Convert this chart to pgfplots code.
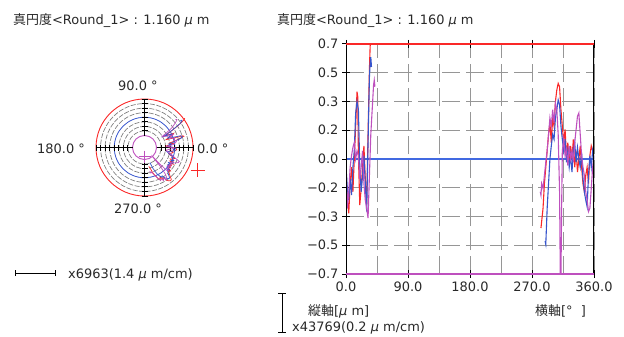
\documentclass[border=0pt]{standalone}
\usepackage{pgfplots}
\pgfplotsset{compat=1.18}
\usepackage{pgfplotstable}
\usepackage{fontspec}
\setmainfont{DejaVu Sans}
\newfontfamily\cjk{Noto Sans CJK JP}
\definecolor{cred}{RGB}{250,40,40}
\definecolor{cblue}{RGB}{55,85,205}
\definecolor{czero}{RGB}{65,105,225}
\definecolor{cmag}{RGB}{190,80,190}
\definecolor{ctxt}{RGB}{40,40,40}
\definecolor{cgrid}{RGB}{150,150,150}

% left cluster (0-45 deg) and right cluster (280-360 deg), value in um
\pgfplotstableread{
a v
0 -0.12
2 -0.25
4 -0.33
6 -0.15
8 -0.05
10 -0.20
12 0.00
14 0.20
16 0.41
17 0.38
18 0.02
20 -0.28
22 -0.18
24 -0.05
26 0.08
28 -0.12
30 -0.28
32 0.15
34 0.55
35 0.68
36 0.75
}\redA
\pgfplotstableread{
a v
0 -0.05
2 -0.18
4 -0.25
6 -0.12
8 -0.22
10 -0.05
12 0.05
14 0.28
16 0.35
18 0.30
20 -0.05
22 -0.20
24 -0.10
26 0.02
28 -0.15
30 -0.32
32 0.10
34 0.50
35 0.58
36 0.62
37 0.56
}\blueA
\pgfplotstableread{
a v
0 -0.02
2 -0.30
4 -0.20
6 -0.05
8 0.02
10 0.07
12 0.10
14 0.00
16 0.05
18 0.02
20 -0.12
22 -0.05
24 0.05
26 -0.15
28 -0.25
30 -0.30
32 -0.36
34 -0.10
36 0.15
38 0.30
40 0.45
41 0.48
42 0.44
}\magA
\pgfplotstableread{
a v
283 -0.42
284 -0.38
286 -0.30
288 -0.15
290 -0.05
292 0.05
294 0.15
296 0.22
298 0.10
300 0.25
302 0.20
304 0.35
306 0.42
308 0.46
310 0.44
312 0.30
314 0.20
316 0.10
318 0.18
320 0.02
322 0.10
324 -0.02
326 0.08
328 0.00
330 0.12
332 -0.05
334 0.05
336 -0.08
338 0.00
340 0.08
342 -0.05
344 -0.15
346 -0.20
348 -0.10
350 -0.05
352 -0.15
354 0.02
356 0.08
358 0.05
360 0.06
}\redB
\pgfplotstableread{
a v
289 -0.50
290 -0.52
292 -0.30
294 -0.15
296 0.00
298 0.08
300 0.15
302 0.12
304 0.25
306 0.30
308 0.36
310 0.33
312 0.20
314 0.12
316 0.05
318 0.12
320 -0.02
322 0.05
324 -0.05
326 0.02
328 -0.08
330 0.05
332 0.10
334 -0.02
336 0.07
338 0.00
340 -0.05
342 0.04
344 -0.12
346 -0.20
348 -0.25
350 -0.29
352 -0.10
354 0.02
356 -0.05
358 0.05
360 0.00
}\blueB
\pgfplotstableread{
a v
282 -0.20
283 -0.22
284 -0.15
286 -0.18
288 -0.10
290 -0.02
292 0.05
294 0.15
296 0.25
298 0.20
300 0.30
302 0.22
304 0.34
306 0.30
308 0.15
310 -0.20
311 -0.70
312 -0.72
313 -0.30
314 0.05
316 0.12
318 0.02
320 0.06
322 -0.04
324 0.08
326 0.00
328 0.05
330 -0.02
332 0.10
334 0.18
336 0.26
338 0.28
340 0.15
342 0.02
344 -0.05
346 -0.10
348 -0.20
350 -0.25
352 -0.32
354 -0.30
356 -0.18
358 -0.05
360 0.02
}\magB

\begin{document}
\begin{tikzpicture}[x=1bp,y=1bp,font=\fontsize{13}{15}\selectfont, every node/.style={text=ctxt}]
\useasboundingbox (0,0) rectangle (624,336);

% titles
\node[anchor=base west,inner sep=0] at (13,312) {{\cjk 真円度}<Round\_1> : 1.160 {\itshape μ} m};
\node[anchor=base west,inner sep=0] at (277,312) {{\cjk 真円度}<Round\_1> : 1.160 {\itshape μ} m};

% polar decorations
\begin{scope}[shift={(144.5,188.5)}]
  \foreach \r in {16.56,21.12,25.69,34.81,39.38,43.94}
    \draw[gray, line width=0.7bp, dash pattern=on 5bp off 1.5bp] (0,0) circle[radius=\r];
  \draw[cblue, line width=0.8bp] (0,0) circle[radius=30.25];
  \draw[cred, line width=0.9bp] (0,0) circle[radius=48.5];
  \draw[cmag, line width=0.9bp] (0,0) circle[radius=12];
  \draw[black, line width=1bp] (-48.5,0) -- (-12,0) (12,0) -- (48.5,0) (0,12) -- (0,48.5) (0,-12) -- (0,-48.5);
  \foreach \r in {16.56,21.12,25.69,30.25,34.81,39.38,43.94,48.5}{
    \draw[black, line width=0.9bp] (\r,-3) -- (\r,3) (-\r,-3) -- (-\r,3) (-3,\r) -- (3,\r) (-3,-\r) -- (3,-\r);
  }
\end{scope}
\node[anchor=base west,inner sep=0] at (118,246) {90.0 °};
\node[anchor=base west,inner sep=0] at (37,182.7) {180.0 °};
\node[anchor=base west,inner sep=0] at (197,183) {0.0 °};
\node[anchor=base west,inner sep=0] at (114,123) {270.0 °};

\begin{axis}[at={(84.5bp,128.5bp)}, anchor=south west, scale only axis,
  width=120bp, height=120bp, xmin=-60, xmax=60, ymin=-60, ymax=60,
  hide axis, clip=false]
  \addplot[cred, line width=0.7bp, data cs=polar] table[x=a, y expr=30.25+26.1*\thisrow{v}] {\redB};
  \addplot[cred, line width=0.7bp, data cs=polar] table[x=a, y expr=30.25+26.1*\thisrow{v}] {\redA};
  \addplot[cblue, line width=0.7bp, data cs=polar] table[x=a, y expr=30.25+26.1*\thisrow{v}] {\blueB};
  \addplot[cblue, line width=0.7bp, data cs=polar] table[x=a, y expr=30.25+26.1*\thisrow{v}] {\blueA};
  \addplot[cmag, line width=0.7bp, data cs=polar] table[x=a, y expr=30.25+26.1*\thisrow{v}] {\magB};
  \addplot[cmag, line width=0.7bp, data cs=polar] table[x=a, y expr=30.25+26.1*\thisrow{v}] {\magA};
  \addplot[cred, only marks, mark=+, mark size=7bp, mark options={line width=0.9bp}] coordinates {(53,-22.5)};
  \addplot[cmag, only marks, mark=+, mark size=6bp, mark options={line width=0.9bp}] coordinates {(0,-9)};
\end{axis}

% scale bar
\draw[black, line width=0.8bp] (15,63) -- (55,63) (15,60) -- (15,66) (55,60) -- (55,66);
\node[anchor=base west,inner sep=0] at (68,58) {x6963(1.4 {\itshape μ} m/cm)};

% right chart
\begin{axis}[at={(346bp,62bp)}, anchor=south west, scale only axis,
  width=248bp, height=230bp,
  xmin=0, xmax=360, ymin=-0.7, ymax=0.7,
  xtick={0,90,180,270,360}, xticklabels={0.0,90.0,180.0,270.0,360.0},
  minor xtick={45,135,225,315},
  ytick={-0.7,-0.525,-0.35,-0.175,0.175,0.35,0.525,0.7},
  yticklabels={−0.7,−0.5,−0.3,−0.2,0.2,0.3,0.5,0.7},
  extra y ticks={0}, extra y tick labels={0.0},
  extra y tick style={grid=none},
  ytick pos=left,
  grid=both,
  major grid style={cgrid, line width=1bp, dash pattern=on 18bp off 6bp},
  minor grid style={cgrid, line width=1bp, dash pattern=on 18bp off 6bp},
  minor tick length=0pt,
  tick align=center, major tick length=8bp,
  tick style={black, line width=1bp},
  axis line style={draw=none},
  ticklabel style={font=\fontsize{13}{15}\selectfont, text=ctxt},
  /pgf/number format/assume math mode=true,
]
  \addplot[czero, line width=1.1bp] coordinates {(0,0) (360,0)};
  \addplot[cred, line width=1.1bp] table[x=a,y=v] {\redA};
  \addplot[cred, line width=1.1bp] table[x=a,y=v] {\redB};
  \addplot[cblue, line width=1.1bp] table[x=a,y=v] {\blueA};
  \addplot[cblue, line width=1.1bp] table[x=a,y=v] {\blueB};
  \addplot[cmag, line width=1.1bp] table[x=a,y=v] {\magA};
  \addplot[cmag, line width=1.1bp] table[x=a,y=v] {\magB};
  \draw[black, line width=1.5bp] (rel axis cs:0,0) -- (rel axis cs:0,1);
  \draw[black, line width=1.2bp] (rel axis cs:1,0) -- (rel axis cs:1,1);
  \draw[cred, line width=1.2bp] (rel axis cs:0,1) -- (rel axis cs:1,1);
  \draw[cmag, line width=1.2bp] (rel axis cs:0,0) -- (rel axis cs:1,0);
\end{axis}

% bottom labels
\draw[black, line width=0.8bp] (282,4) -- (282,43) (278,4) -- (286,4) (278,43) -- (286,43);
\node[anchor=base west,inner sep=0] at (308,21) {{\cjk 縦軸}[{\itshape μ} m]};
\node[anchor=base west,inner sep=0] at (535,21) {{\cjk 横軸}[°\ \ ]};
\node[anchor=base west,inner sep=0] at (292,5) {x43769(0.2 {\itshape μ} m/cm)};
\end{tikzpicture}
\end{document}
